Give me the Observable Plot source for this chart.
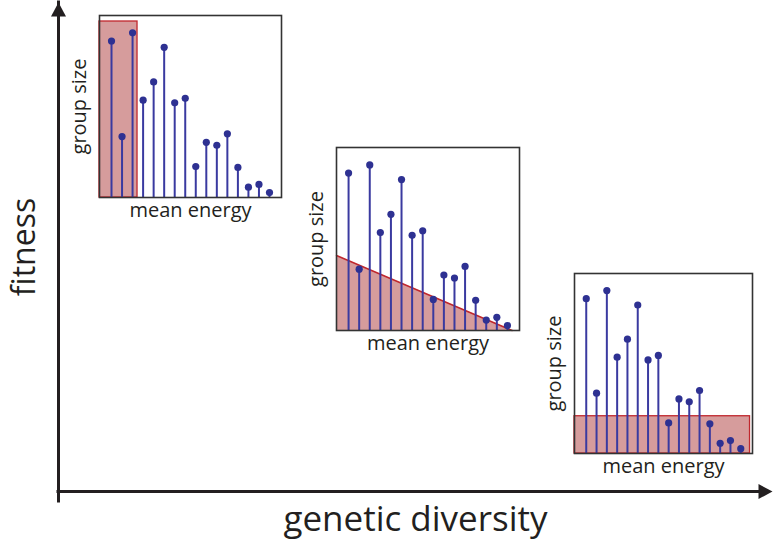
<!DOCTYPE html>
<html>
<head>
<meta charset="utf-8">
<script src="https://cdn.jsdelivr.net/npm/d3@7"></script>
<script src="https://cdn.jsdelivr.net/npm/@observablehq/plot@0.6"></script>
<style>
  html, body { margin: 0; padding: 0; background: #fff; }
  #chart { position: relative; width: 774px; height: 543px; overflow: hidden; }
  #chart svg { position: absolute; }
</style>
</head>
<body>
<div id="chart"></div>
<script>
// Energy classes (x) and the group size in each class (y, % of panel height)
const energy = [1, 2, 3, 4, 5, 6, 7, 8, 9, 10, 11, 12, 13, 14, 15, 16];
const groupSize = [86, 33.5, 90.5, 53.5, 63.5, 82.5, 52, 54.5, 17, 30.3, 28.7, 35, 16.5, 5.7, 7.2, 2.7];

// Selection regimes shaded in each inset
const narrowCut = {energyMax: 3.47, size: 96.7};        // only the lowest classes pass
const slopeCut = {energy: [-0.14, 16.45], size: [41, 0]}; // threshold falling with energy
const flatCut = {energyMax: 16.9, size: 20.7};          // uniform low threshold

const mainLabels = {x: "genetic diversity", y: "fitness"};
const insetLabels = {x: "mean energy", y: "group size"};

const energyDomain = [-0.14, 17.14];
const font = "Open Sans";
const ink = "#231f20";
const stemColor = "#3a3aa0";
const dotColor = "#2e3192";
const cutFill = "#d69c9c";
const cutStroke = "#c0272d";

const rows = energy.map((e, i) => ({energy: e, size: groupSize[i]}));

const chart = document.getElementById("chart");

// Filled arrowheads for the main axes
const arrowUp = {draw(ctx) { ctx.moveTo(0, 0); ctx.lineTo(-7.5, 14); ctx.lineTo(7.5, 14); ctx.closePath(); }};
const arrowRight = {draw(ctx) { ctx.moveTo(0, 0); ctx.lineTo(-14, -7.5); ctx.lineTo(-14, 7.5); ctx.closePath(); }};

const main = Plot.plot({
  width: 774,
  height: 543,
  marginLeft: 58,
  marginBottom: 52,
  marginTop: 2,
  marginRight: 2,
  x: {domain: [0, 1], axis: null},
  y: {domain: [0, 1], axis: null},
  style: {fontFamily: font, background: "transparent"},
  marks: [
    Plot.ruleX([0], {y1: 0, y2: 1, insetTop: 10, stroke: ink, strokeWidth: 3, strokeLinecap: "square"}),
    Plot.ruleY([0], {x1: 0, x2: 1, insetRight: 10, stroke: ink, strokeWidth: 3, strokeLinecap: "square"}),
    Plot.dot([0], {x: 0, y: 1, symbol: arrowUp, fill: ink, stroke: "none"}),
    Plot.dot([0], {x: 1, y: 0, symbol: arrowRight, fill: ink, stroke: "none"}),
    Plot.text([mainLabels.x], {frameAnchor: "bottom", dy: 39, fontSize: 35, fill: ink, fontFamily: font}),
    Plot.text([mainLabels.y], {frameAnchor: "left", textAnchor: "middle", dx: -34, rotate: -90, fontSize: 32, fill: ink, fontFamily: font})
  ]
});
main.style.left = "0px";
main.style.top = "0px";
chart.appendChild(main);

const m = {left: 34, right: 3, top: 3, bottom: 34};

function inset(left, top, w, h, cutMarks) {
  const svg = Plot.plot({
    width: m.left + w + m.right,
    height: m.top + h + m.bottom,
    marginLeft: m.left,
    marginRight: m.right,
    marginTop: m.top,
    marginBottom: m.bottom,
    x: {domain: energyDomain, axis: null},
    y: {domain: [0, 100], axis: null},
    style: {fontFamily: font, background: "transparent"},
    marks: [
      ...cutMarks,
      Plot.ruleX(rows, {x: "energy", y1: 0, y2: "size", stroke: stemColor, strokeWidth: 2}),
      Plot.dot(rows, {x: "energy", y: "size", r: 3.6, fill: dotColor, stroke: "none"}),
      Plot.frame({stroke: "#333", strokeWidth: 1.6}),
      Plot.text([insetLabels.y], {frameAnchor: "left", textAnchor: "middle", dx: -20, rotate: -90, fontSize: 20, fill: ink, fontFamily: font}),
      Plot.text([insetLabels.x], {frameAnchor: "bottom", textAnchor: "middle", dy: 19, fontSize: 20, fill: ink, fontFamily: font})
    ]
  });
  svg.style.left = (left - m.left) + "px";
  svg.style.top = (top - m.top) + "px";
  chart.appendChild(svg);
}

// Low diversity: a narrow band of energies is selected
inset(99, 15, 182, 182, [
  Plot.rectY([narrowCut], {x1: energyDomain[0], x2: "energyMax", y1: 0, y2: "size", fill: cutFill, stroke: cutStroke, strokeWidth: 1.3})
]);

// Intermediate diversity: threshold declines with energy
const slopeRows = slopeCut.energy.map((e, i) => ({energy: e, size: slopeCut.size[i]}));
inset(336, 147, 183, 183, [
  Plot.areaY(slopeRows, {x: "energy", y: "size", fill: cutFill}),
  Plot.line(slopeRows, {x: "energy", y: "size", stroke: cutStroke, strokeWidth: 1.5})
]);

// High diversity: flat threshold across all energies
inset(574, 273, 178, 180, [
  Plot.rectY([flatCut], {x1: energyDomain[0], x2: "energyMax", y1: 0, y2: "size", fill: cutFill, stroke: cutStroke, strokeWidth: 1.3})
]);
</script>
</body>
</html>
